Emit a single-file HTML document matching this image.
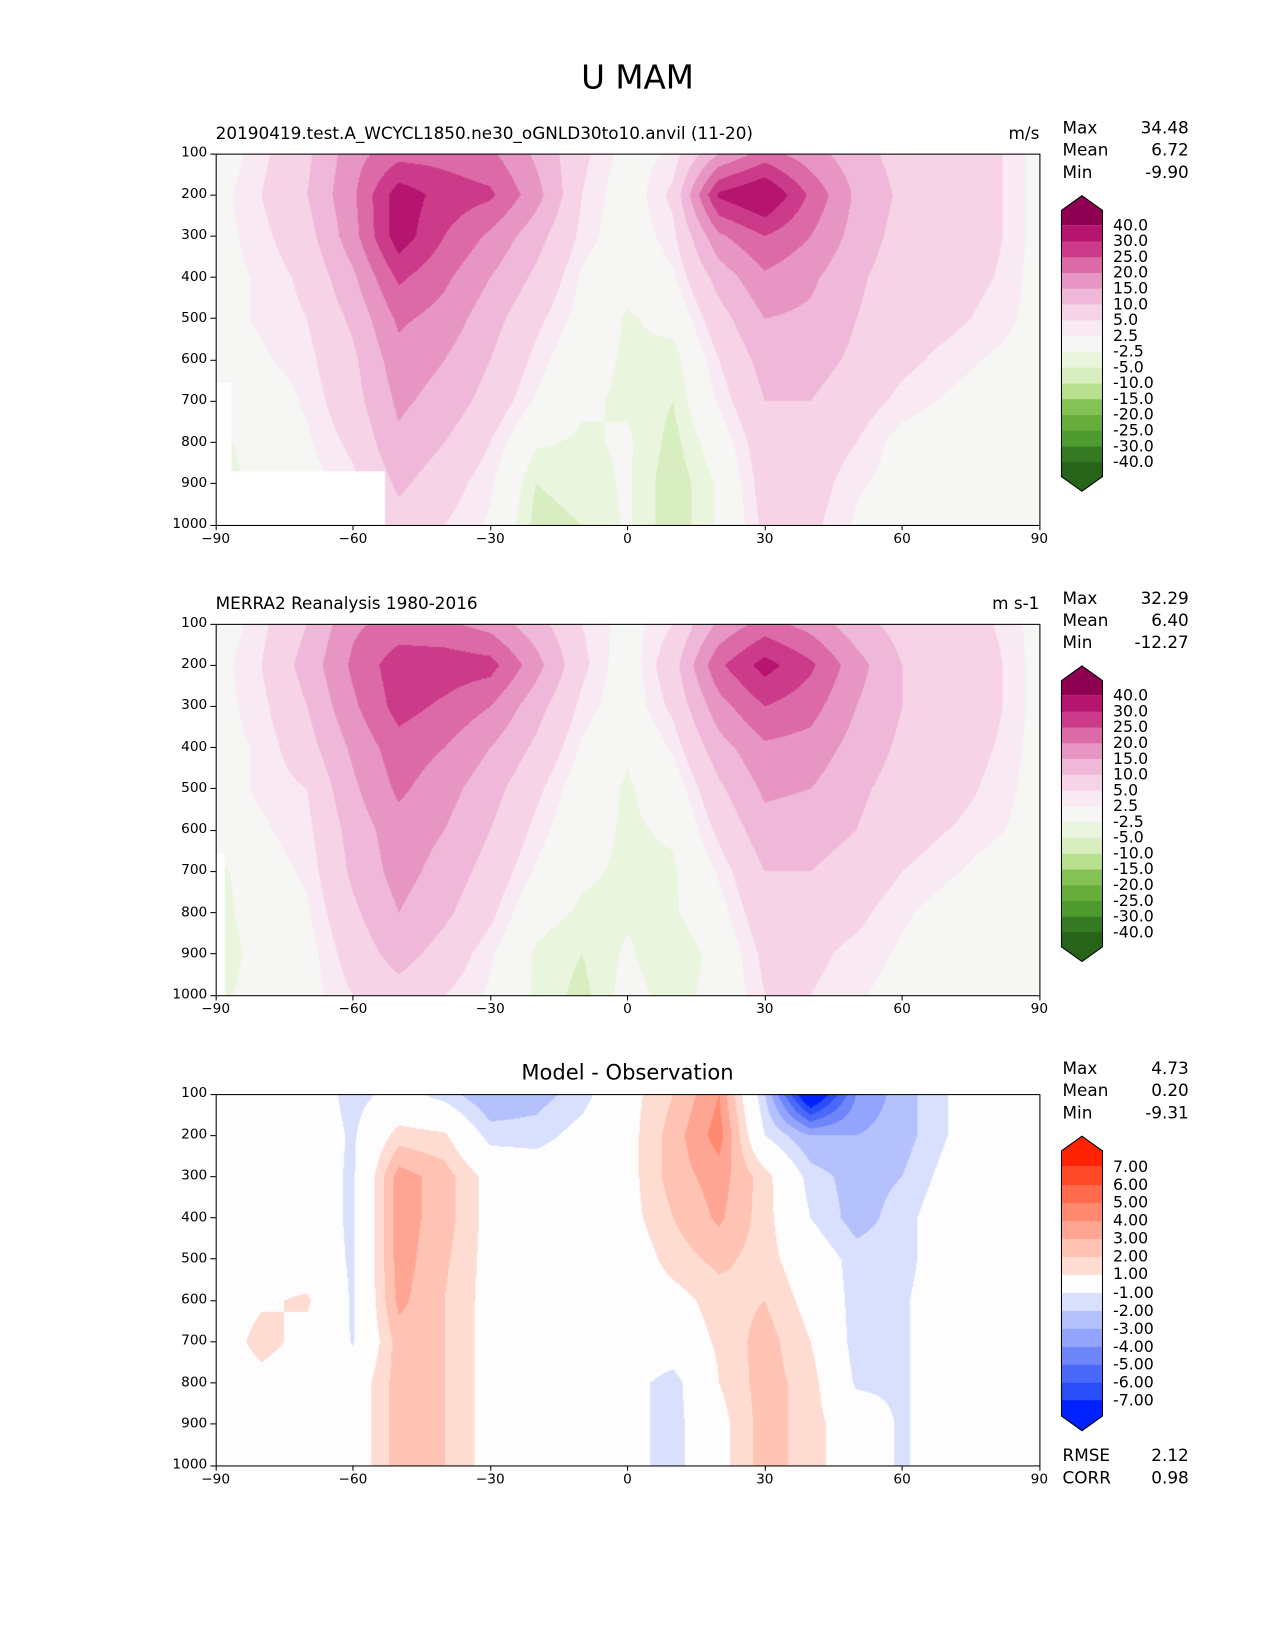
<!DOCTYPE html>
<html><head><meta charset="utf-8">
<style>
body{margin:0;background:#fff;font-family:"DejaVu Sans","Liberation Sans",sans-serif;overflow:hidden;}
#wrap{position:relative;width:1275px;height:1650px;overflow:hidden;}
#root{position:absolute;left:0;top:0;width:1212px;height:1569px;overflow:hidden;transform:scale(1.052);transform-origin:0 0;}
.abs{position:absolute;white-space:nowrap;}
canvas{position:absolute;}
</style></head><body>
<div id="wrap">
<div id="root">
<div class="abs" style="left:0;width:1212px;top:56px;text-align:center;font-size:31px;">U MAM</div>
</div>
</div>
<script>
const lats=[-90,-80,-70,-60,-50,-40,-30,-20,-10,0,10,20,30,40,50,60,70,80,90];
const pres=[100,200,300,400,500,600,700,800,900,1000];
const modelU=[
[0,4,9,18,23,23,21,14,6,1,3,15,22,17,12,8,7,6,1],
[1,5,10,19,33,28,26,17,5,0,6,31,36,24,14,9,8,6,1],
[1,4,8,18,33,25,19,12,4,0,4,19,25,20,13,8,7,6,1],
[1,3,6,14,26,21,15,9,2,-1,2,12,19,16,11,7,7,5,1],
[1,3,5,11,21,18,12,6,1,-3,-1,8,15,14,10,7,6,4,1],
[1,2,4,9,18,15,10,4,-1,-3,-4,5,12,12,9,6,4,2,1],
[1,0,3,8,16,13,8,2,-2,-3,-5,3,10,10,7,4,2,0,0],
[-4,0,2,6,14,10,5,-2,-3,-2,-6,0,8,8,5,1,0,0,0],
[-6,0,1,4,11,7,3,-5,-4,-2,-7,-2,7,7,3,1,0,0,0],
[-5,0,1,3,8,5,2,-6,-5,-2,-7,-2,6,6,2,0,0,0,0]];
const obsU=[
[0,4,10,19,22,21,18,12,5,1,5,16,22,18,12,8,7,5,1],
[1,5,12,21,28,28,27,17,6,0,8,24,32,26,17,10,9,6,1],
[1,4,10,19,27,24,20,12,4,0,6,18,25,22,15,10,9,6,1],
[1,3,8,16,23,20,15,9,2,-2,3,13,19,18,13,9,8,5,1],
[1,3,5,14,21,17,12,6,0,-3,0,9,16,15,11,8,7,4,1],
[1,2,4,12,18,15,10,4,-1,-3,-2,6,13,12,10,7,5,3,1],
[-4,1,3,11,17,13,8,2,-2,-3,-3,3,10,10,8,5,3,1,0],
[-5,1,2,9,15,11,6,-1,-3,-3,-3,1,8,7,6,3,1,0,0],
[-6,0,1,7,12,8,3,-3,-5,-2,-5,-1,6,6,4,2,1,0,0],
[-4,0,1,5,8,5,2,-3,-6,-1,-4,-1,5,5,3,1,0,0,0]];
const diffU=[
[0,0,0,-1.5,-0.5,-1.5,-3,-2.5,-1.5,0.5,2,4,-2,-9,-4,-2.5,-1,0.5,0],
[0,0,0,-1.2,1.5,1.2,-1.5,-1.5,-0.5,0.5,2.5,4.5,-1,-3,-3,-2.5,-1,0,0],
[0,0,-0.3,-1.2,3.5,2.5,0.5,0,0,0.5,2.5,3.5,1.5,-1.5,-2.5,-2,-0.5,0,0],
[0,0.5,-0.3,-1.2,3.5,2.5,0.5,0,0,0.5,2,3.2,1.5,-1,-2.5,-1.5,0,0,0],
[0,0.5,0,-1.2,3.5,2.2,0.5,0,0,0,1.5,2.3,1.5,0,-1.5,-1.5,0,0,0],
[0,0.8,1.2,-1.2,3.3,2,0.5,0,0,0,0.5,1.5,2,0.5,-1.5,-1.2,0,0,0],
[0,1.5,0.5,-1.1,2.5,2,0.5,0,0,0,0,1.2,2.5,1,-1.5,-1.2,0,0,0],
[0,0.5,0,0,2.5,2,0.5,0,0,-0.5,-1.5,1,2.5,1.5,-1.2,-1.2,0,0,0],
[0,0,0,0,2.5,2,0.5,0,0,-0.5,-1.5,0.5,2.5,1.5,0,-1.2,0,0,0],
[0,0,0,0,2.5,2,0.5,0,0,-0.5,-1.5,0.5,2.5,1.5,0,-1.2,0,0,0]];
const uLevels=[-40,-30,-25,-20,-15,-10,-5,-2.5,2.5,5,10,15,20,25,30,40];
const uLabels=["-40.0","-30.0","-25.0","-20.0","-15.0","-10.0","-5.0","-2.5","2.5","5.0","10.0","15.0","20.0","25.0","30.0","40.0"];
const uColors=['#357a23','#4d9a2e','#67ad3c','#85c256','#b8e08f','#d8eec0','#e9f5dd','#f6f6f4','#f9e9f2','#f6d3e6','#f0b8d8','#e795c3','#dc6aa6','#cc3a8a','#b5156f'];
const dLevels=[-7,-6,-5,-4,-3,-2,-1,1,2,3,4,5,6,7];
const dLabels=["-7.00","-6.00","-5.00","-4.00","-3.00","-2.00","-1.00","1.00","2.00","3.00","4.00","5.00","6.00","7.00"];
const dColors=['#2a4df8','#4a69f9','#6e86fa','#92a4fb','#b5c1fc','#d9e0fd','#fdfdfd','#ffdcd2','#ffc3b4','#ffa593','#ff8a6f','#ff6b4c','#ff4a28'];
const latTicks=[-90,-60,-30,0,30,60,90];
const presTicks=[100,200,300,400,500,600,700,800,900,1000];

const root=document.getElementById('root');
const X0=205,X1=988;
function xs(lat){return X0+(lat+90)/180*(X1-X0);}
function hex(c){return [parseInt(c.substr(1,2),16),parseInt(c.substr(3,2),16),parseInt(c.substr(5,2),16)];}
function colorFor(v,levels,colors,under,over){
  if(v<levels[0])return under;
  if(v>=levels[levels.length-1])return over;
  for(let i=0;i<levels.length-1;i++){if(v>=levels[i]&&v<levels[i+1])return colors[i];}
  return over;
}
function sample(grid,lat,p){
  let fx=(lat+90)/10, fy=(p-100)/100;
  let i=Math.min(Math.floor(fx),17), j=Math.min(Math.floor(fy),8);
  let tx=fx-i, ty=fy-j;
  let a=grid[j][i],b=grid[j][i+1],c=grid[j+1][i],d=grid[j+1][i+1];
  return a*(1-tx)*(1-ty)+b*tx*(1-ty)+c*(1-tx)*ty+d*tx*ty;
}
function addDiv(name,css,text){
  const d=document.createElement('div');
  d.className='abs';d.style.cssText=css;if(text!==undefined)d.textContent=text;
  
  
  root.appendChild(d);return d;
}
function panel(opt){
  const Y0=opt.y0,Y1=opt.y0+353;
  const ys=p=>Y0+(p-100)/900*(Y1-Y0);
  const W=X1-X0,H=Y1-Y0;
  const cv=document.createElement('canvas');
  cv.width=W;cv.height=H;cv.style.left=X0+'px';cv.style.top=Y0+'px';
  
  
  root.appendChild(cv);
  const ctx=cv.getContext('2d');const img=ctx.createImageData(W,H);
  const cache={};
  for(let y=0;y<H;y++){const p=100+(y+0.5)/H*900;
    for(let x=0;x<W;x++){const lat=-90+(x+0.5)/W*180;
      const c=colorFor(sample(opt.grid,lat,p),opt.levels,opt.colors,opt.under,opt.over);
      const rgb=cache[c]||(cache[c]=hex(c));const k=(y*W+x)*4;
      img.data[k]=rgb[0];img.data[k+1]=rgb[1];img.data[k+2]=rgb[2];img.data[k+3]=255;}}
  ctx.putImageData(img,0,0);
  ctx.fillStyle='#fff';
  (opt.masks||[]).forEach(m=>{ctx.fillRect(xs(m[0])-X0,ys(m[2])-Y0,xs(m[1])-xs(m[0]),ys(1000)-ys(m[2])+1);});
  addDiv(opt.name+'-axes','left:'+X0+'px;top:'+Y0+'px;width:'+(W+1)+'px;height:'+(H+1)+'px;border:1px solid #000;box-sizing:border-box;');
  latTicks.forEach(l=>{
    addDiv('x-tick','left:'+(xs(l)-0.5)+'px;top:'+(Y1)+'px;width:1px;height:5px;background:#000;');
    addDiv('x-tick-label','left:'+(xs(l)-30)+'px;width:60px;text-align:center;top:'+(Y1+6)+'px;font-size:13px;',l===0?'0':(l<0?'\u2212'+(-l):String(l)));
  });
  presTicks.forEach(p=>{
    addDiv('y-tick','left:'+(X0-5)+'px;top:'+(ys(p)-0.5)+'px;width:5px;height:1px;background:#000;');
    addDiv('y-tick-label','left:'+(X0-70)+'px;width:62px;text-align:right;top:'+(ys(p)-8)+'px;font-size:13px;',String(p));
  });
  if(opt.title)addDiv(opt.name+'-title','left:205px;top:'+(Y0-29)+'px;font-size:16px;',opt.title);
  if(opt.ctitle)addDiv(opt.name+'-title','left:205px;width:783px;text-align:center;top:'+(Y0-33)+'px;font-size:20px;',opt.ctitle);
  if(opt.units)addDiv(opt.name+'-units','left:888px;width:100px;text-align:right;top:'+(Y0-29)+'px;font-size:16px;',opt.units);
  opt.stats.forEach(s=>{
    addDiv('stat-label','left:1010px;top:'+(s[2]-10)+'px;font-size:16px;',s[0]);
    addDiv('stat-value','left:1030px;width:100px;text-align:right;top:'+(s[2]-10)+'px;font-size:16px;',s[1]);
  });
  const cb=opt.cb;const n=opt.levels.length;const step=(cb.bot-cb.top)/(n-1);
  const NS='http://www.w3.org/2000/svg';
  const svg=document.createElementNS(NS,'svg');
  svg.setAttribute('width','60');svg.setAttribute('height',String(cb.bot-cb.top+2*cb.ext+4));
  svg.style.position='absolute';svg.style.left='1005px';svg.style.top=(cb.top-cb.ext-2)+'px';
  
  
  const oy=cb.ext+2, L=4, R=43, M=23.5, tip=cb.tip;
  function poly(pts,fill,name){const e=document.createElementNS(NS,'polygon');e.setAttribute('points',pts);e.setAttribute('fill',fill);
    
    
    svg.appendChild(e);}
  poly(`${M},${oy-cb.ext} ${R},${oy-cb.ext+tip} ${R},${oy} ${L},${oy} ${L},${oy-cb.ext+tip}`,opt.over,'colorbar-over');
  for(let i=0;i<n-1;i++){const yTop=oy+(n-2-i)*step;
    poly(`${L},${yTop} ${R},${yTop} ${R},${yTop+step+0.5} ${L},${yTop+step+0.5}`,opt.colors[i],'colorbar-bin');}
  const yb=oy+(n-1)*step;
  poly(`${L},${yb} ${R},${yb} ${R},${yb+cb.ext-tip} ${M},${yb+cb.ext} ${L},${yb+cb.ext-tip}`,opt.under,'colorbar-under');
  const out=document.createElementNS(NS,'polygon');
  out.setAttribute('points',`${M},${oy-cb.ext} ${R},${oy-cb.ext+tip} ${R},${yb+cb.ext-tip} ${M},${yb+cb.ext} ${L},${yb+cb.ext-tip} ${L},${oy-cb.ext+tip}`);
  out.setAttribute('fill','none');out.setAttribute('stroke','#000');out.setAttribute('stroke-width','1');
  
  
  svg.appendChild(out);
  root.appendChild(svg);
  opt.labels.forEach((lb,i)=>{const y=cb.bot-i*step;
    addDiv('colorbar-tick-label','left:1058px;top:'+(y-9)+'px;font-size:15px;',lb);});
}
panel({name:'model-panel',y0:146,grid:modelU,levels:uLevels,colors:uColors,under:'#276419',over:'#8e0152',labels:uLabels,
  title:'20190419.test.A_WCYCL1850.ne30_oGNLD30to10.anvil (11-20)',units:'m/s',
  stats:[['Max','34.48',122],['Mean','6.72',143],['Min','-9.90',164]],
  cb:{top:214,bot:439,ext:28,tip:14},masks:[[-90,-53,870],[-90,-86.5,655]]});
panel({name:'obs-panel',y0:593,grid:obsU,levels:uLevels,colors:uColors,under:'#276419',over:'#8e0152',labels:uLabels,
  title:'MERRA2 Reanalysis 1980-2016',units:'m s-1',
  stats:[['Max','32.29',569],['Mean','6.40',590],['Min','-12.27',611]],
  cb:{top:661,bot:886,ext:28,tip:14},masks:[[-90,-88,655]]});
panel({name:'diff-panel',y0:1040,grid:diffU,levels:dLevels,colors:dColors,under:'#0022ff',over:'#ff2200',labels:dLabels,
  ctitle:'Model - Observation',
  stats:[['Max','4.73',1016],['Mean','0.20',1037],['Min','-9.31',1058],['RMSE','2.12',1384],['CORR','0.98',1405]],
  cb:{top:1109,bot:1331,ext:29,tip:14}});
</script>
</body></html>
